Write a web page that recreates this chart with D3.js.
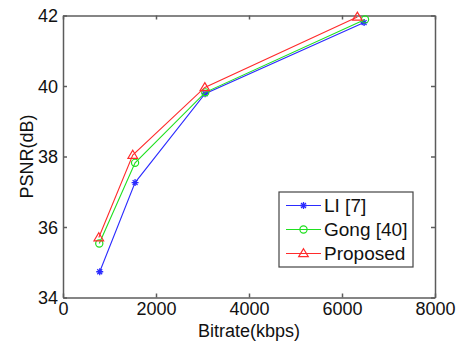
<!DOCTYPE html>
<html>
<head>
<meta charset="utf-8">
<script src="https://cdn.jsdelivr.net/npm/d3@7"></script>
<style>
  body { margin: 0; background: #fff; }
  svg { display: block; font-family: "Liberation Sans", Arial, sans-serif; }
</style>
</head>
<body>
<div id="chart"></div>
<script>
// values
const seriesNames = ['LI [7]', 'Gong [40]', 'Proposed'];
const liBitrate = [790, 1550, 3055, 6475];
const liPsnr = [34.73, 37.26, 39.78, 41.80];
const gongBitrate = [780, 1550, 3060, 6495];
const gongPsnr = [35.53, 37.82, 39.82, 41.89];
const propBitrate = [770, 1500, 3050, 6330];
const propPsnr = [35.70, 38.04, 39.96, 41.96];
const xTicks = [0, 2000, 4000, 6000, 8000];
const yTicks = [34, 36, 38, 40, 42];

const W = 462, H = 343;
const margin = {top: 15.5, right: 27, bottom: 45.5, left: 63};
const width = W - margin.left - margin.right,
  height = H - margin.top - margin.bottom;

const svg = d3.select('#chart').append('svg')
  .attr('width', W)
  .attr('height', H);

const g = svg.append('g').attr('transform', `translate(${margin.left},${margin.top})`);

const x = d3.scaleLinear().domain([0, 8000]).range([0, width]);
const y = d3.scaleLinear().domain([34, 42]).range([height, 0]);

const axisColor = '#5c5c5c';
const fontSize = 18;

function styleAxis(sel) {
  sel.selectAll('path, line').attr('stroke', axisColor).attr('stroke-width', 1.5);
  sel.selectAll('text').attr('fill', '#111').style('font-size', fontSize + 'px');
}

// bottom / left with labels, top / right mirrored ticks only
g.append('g').attr('transform', `translate(0,${height})`)
  .call(d3.axisBottom(x).tickValues(xTicks).tickFormat(d3.format('d')).tickSize(-4).tickSizeOuter(0).tickPadding(5))
  .call(styleAxis);
g.append('g')
  .call(d3.axisLeft(y).tickValues(yTicks).tickFormat(d3.format('d')).tickSize(-4).tickSizeOuter(0).tickPadding(5))
  .call(styleAxis)
  .selectAll('text').attr('dy', '0.36em');
g.append('g')
  .call(d3.axisTop(x).tickValues(xTicks).tickSize(-4).tickSizeOuter(0).tickFormat(''))
  .call(styleAxis);
g.append('g').attr('transform', `translate(${width},0)`)
  .call(d3.axisRight(y).tickValues(yTicks).tickSize(-4).tickSizeOuter(0).tickFormat(''))
  .call(styleAxis);

// axis titles
g.append('text')
  .attr('x', width / 2)
  .attr('y', height + 39)
  .attr('text-anchor', 'middle')
  .style('font-size', fontSize + 'px')
  .attr('fill', '#111')
  .text('Bitrate(kbps)');
g.append('text')
  .attr('transform', `translate(${-30},${height / 2}) rotate(-90)`)
  .attr('text-anchor', 'middle')
  .style('font-size', fontSize + 'px')
  .attr('fill', '#111')
  .text('PSNR(dB)');

const series = [
  {name: seriesNames[0], xs: liBitrate, ys: liPsnr, color: '#2b2bff', marker: 'star'},
  {name: seriesNames[1], xs: gongBitrate, ys: gongPsnr, color: '#1fe01f', marker: 'circle'},
  {name: seriesNames[2], xs: propBitrate, ys: propPsnr, color: '#ff2b2b', marker: 'triangle'}
];

function drawMarker(sel, type, color) {
  if (type === 'star') {
    const r = 3.5;
    const d = `M${-r},0H${r}M0,${-r}V${r}M${-r * 0.7},${-r * 0.7}L${r * 0.7},${r * 0.7}M${-r * 0.7},${r * 0.7}L${r * 0.7},${-r * 0.7}`;
    sel.append('path').attr('d', d).attr('stroke', color).attr('stroke-width', 1.3).attr('fill', 'none');
  } else if (type === 'circle') {
    sel.append('circle').attr('r', 3.6).attr('stroke', color).attr('stroke-width', 1.2).attr('fill', 'none');
  } else {
    sel.append('path').attr('d', 'M0,-4.8L4.8,3.2L-4.8,3.2Z')
      .attr('stroke', color).attr('stroke-width', 1.2).attr('fill', 'none');
  }
}

const line = d3.line().x(d => x(d[0])).y(d => y(d[1]));

series.forEach(s => {
  const pts = s.xs.map((v, i) => [v, s.ys[i]]);
  g.append('path')
    .datum(pts)
    .attr('d', line)
    .attr('fill', 'none')
    .attr('stroke', s.color)
    .attr('stroke-width', 1.1);
  g.append('g').selectAll('g')
    .data(pts).enter().append('g')
      .attr('transform', d => `translate(${x(d[0])},${y(d[1])})`)
      .each(function() { drawMarker(d3.select(this), s.marker, s.color); });
});

// legend
const legend = svg.append('g').attr('transform', 'translate(279,192)');
legend.append('rect')
  .attr('width', 134)
  .attr('height', 75)
  .attr('fill', '#fff')
  .attr('stroke', '#444')
  .attr('stroke-width', 1.2);
series.forEach((s, i) => {
  const row = legend.append('g').attr('transform', `translate(0,${13.5 + i * 24})`);
  row.append('line')
    .attr('x1', 7).attr('x2', 42)
    .attr('stroke', s.color).attr('stroke-width', 1.1);
  drawMarker(row.append('g').attr('transform', 'translate(24.5,0)'), s.marker, s.color);
  row.append('text')
    .attr('x', 45)
    .attr('dy', '0.36em')
    .style('font-size', '19px')
    .attr('fill', '#111')
    .text(s.name);
});
</script>
</body>
</html>
